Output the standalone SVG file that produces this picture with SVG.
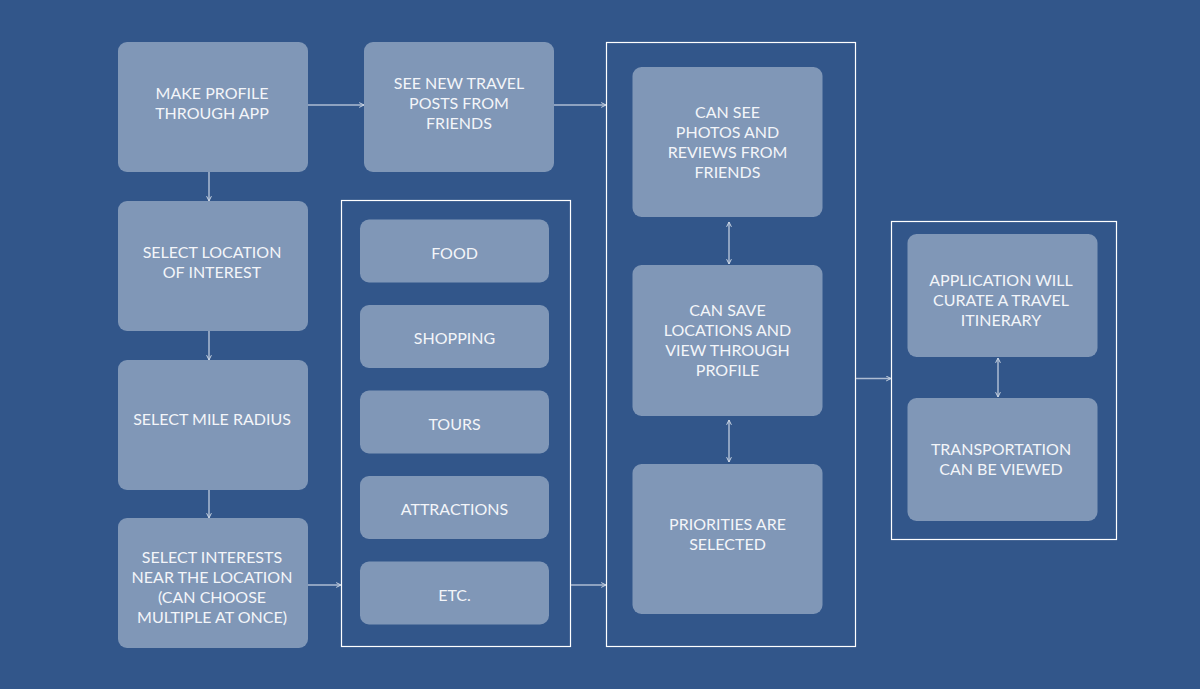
<svg xmlns="http://www.w3.org/2000/svg" width="1200" height="689" viewBox="0 0 1200 689">
<defs>
<style>
.bg{fill:#32568a}
.n{fill:#8097b7}
.c{fill:none;stroke:#ffffff;stroke-width:1.2}
.t{font-family:Lato,"Open Sans","Liberation Sans",sans-serif;font-size:16px;fill:#f3f5f9;text-anchor:middle}
.e{fill:none;stroke:#aebcd2;stroke-width:1.5}
</style>
<marker id="ah" viewBox="0 0 10 10" refX="9" refY="5" markerWidth="6" markerHeight="6" markerUnits="userSpaceOnUse" orient="auto-start-reverse">
<path d="M1,1 L9,5 L1,9" fill="none" stroke="#d0d9e6" stroke-width="1.6"/>
</marker>
</defs>
<rect class="bg" x="0" y="0" width="1200" height="689"/>

<g id="group-interests"><rect class="c" x="341.5" y="200.5" width="229" height="446"/></g>
<g id="group-profile"><rect class="c" x="606.5" y="42.5" width="249" height="604"/></g>
<g id="group-itinerary"><rect class="c" x="891.5" y="221.5" width="225" height="318"/></g>

<g id="make-profile"><rect class="n" x="118" y="42" width="190" height="130" rx="9"/>
<text class="t" x="212" y="99">MAKE PROFILE</text><text class="t" x="212" y="119">THROUGH APP</text></g>
<g id="see-posts"><rect class="n" x="364" y="42" width="190" height="130" rx="9"/>
<text class="t" x="459" y="89">SEE NEW TRAVEL</text><text class="t" x="459" y="109">POSTS FROM</text><text class="t" x="459" y="129">FRIENDS</text></g>
<g id="select-location"><rect class="n" x="118" y="201" width="190" height="130" rx="9"/>
<text class="t" x="212" y="258">SELECT LOCATION</text><text class="t" x="212" y="278">OF INTEREST</text></g>
<g id="select-radius"><rect class="n" x="118" y="360" width="190" height="130" rx="9"/>
<text class="t" x="212" y="425">SELECT MILE RADIUS</text></g>
<g id="select-interests"><rect class="n" x="118" y="518" width="190" height="130" rx="9"/>
<text class="t" x="212" y="563">SELECT INTERESTS</text><text class="t" x="212" y="583">NEAR THE LOCATION</text><text class="t" x="212" y="603">(CAN CHOOSE</text><text class="t" x="212" y="623">MULTIPLE AT ONCE)</text></g>

<g id="food"><rect class="n" x="360" y="219.5" width="189" height="63" rx="9"/><text class="t" x="454.5" y="258.5">FOOD</text></g>
<g id="shopping"><rect class="n" x="360" y="305" width="189" height="63" rx="9"/><text class="t" x="454.5" y="344">SHOPPING</text></g>
<g id="tours"><rect class="n" x="360" y="390.5" width="189" height="63" rx="9"/><text class="t" x="454.5" y="429.5">TOURS</text></g>
<g id="attractions"><rect class="n" x="360" y="476" width="189" height="63" rx="9"/><text class="t" x="454.5" y="515">ATTRACTIONS</text></g>
<g id="etc"><rect class="n" x="360" y="561.5" width="189" height="63" rx="9"/><text class="t" x="454.5" y="600.5">ETC.</text></g>

<g id="see-photos"><rect class="n" x="632.5" y="67" width="190" height="150" rx="9"/>
<text class="t" x="727.5" y="117.5">CAN SEE</text><text class="t" x="727.5" y="137.5">PHOTOS AND</text><text class="t" x="727.5" y="157.5">REVIEWS FROM</text><text class="t" x="727.5" y="177.5">FRIENDS</text></g>
<g id="save-locations"><rect class="n" x="632.5" y="265" width="190" height="151" rx="9"/>
<text class="t" x="727.5" y="315.5">CAN SAVE</text><text class="t" x="727.5" y="335.5">LOCATIONS AND</text><text class="t" x="727.5" y="355.5">VIEW THROUGH</text><text class="t" x="727.5" y="375.5">PROFILE</text></g>
<g id="priorities"><rect class="n" x="632.5" y="464" width="190" height="150" rx="9"/>
<text class="t" x="727.5" y="530">PRIORITIES ARE</text><text class="t" x="727.5" y="550">SELECTED</text></g>

<g id="curate"><rect class="n" x="907.5" y="234" width="190" height="123" rx="9"/>
<text class="t" x="1001" y="286">APPLICATION WILL</text><text class="t" x="1001" y="306">CURATE A TRAVEL</text><text class="t" x="1001" y="326">ITINERARY</text></g>
<g id="transportation"><rect class="n" x="907.5" y="398" width="190" height="123" rx="9"/>
<text class="t" x="1001" y="454.5">TRANSPORTATION</text><text class="t" x="1001" y="474.5">CAN BE VIEWED</text></g>

<g id="connectors">
<path class="e" d="M308,105 H364" marker-end="url(#ah)"/>
<path class="e" d="M554,105 H606" marker-end="url(#ah)"/>
<path class="e" d="M209,172 V201" marker-end="url(#ah)"/>
<path class="e" d="M209,331 V360" marker-end="url(#ah)"/>
<path class="e" d="M209,490 V518" marker-end="url(#ah)"/>
<path class="e" d="M308,585 H341" marker-end="url(#ah)"/>
<path class="e" d="M571,585 H606" marker-end="url(#ah)"/>
<path class="e" d="M729,222 V264" marker-start="url(#ah)" marker-end="url(#ah)"/>
<path class="e" d="M729,420 V462" marker-start="url(#ah)" marker-end="url(#ah)"/>
<path class="e" d="M856,378.5 H891" marker-end="url(#ah)"/>
<path class="e" d="M998,358 V397" marker-start="url(#ah)" marker-end="url(#ah)"/>
</g>
</svg>
